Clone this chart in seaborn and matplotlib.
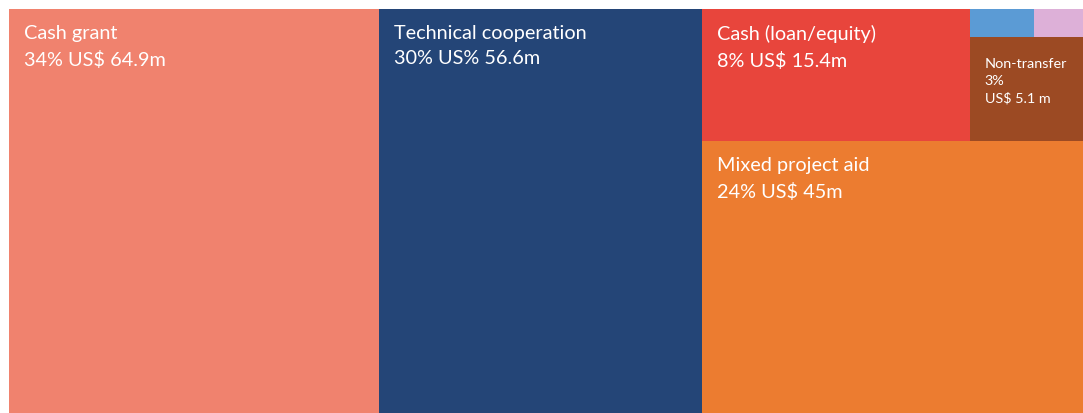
import matplotlib
matplotlib.use("Agg")
import matplotlib.pyplot as plt
import seaborn as sns
from matplotlib.patches import Rectangle

# aid modalities, US$ million
names = ["Cash grant", "Technical cooperation", "Mixed project aid",
         "Cash (loan/equity)", "Non-transfer", "Other A", "Other B"]
values = [64.9, 56.6, 45.0, 15.4, 5.1, 0.8, 0.6]
labels = ["Cash grant\n34% US$ 64.9m", "Technical cooperation\n30% US% 56.6m",
          "Mixed project aid\n24% US$ 45m", "Cash (loan/equity)\n8% US$ 15.4m",
          "Non-transfer\n3%\nUS$ 5.1 m", "", ""]
colors = ["#F0826E", "#244577", "#EC7C30", "#E8453C", "#9C4A23", "#5B9BD5", "#DDB0D8"]

sns.set_style("white")
plt.rcParams["font.family"] = ["Lato", "DejaVu Sans"]

W, H = 1074.0, 404.0
v = dict(zip(names, values))
total = sum(values)

# slice layout: two full-height columns, then a split column
rects = {}
x = 0.0
for n in ["Cash grant", "Technical cooperation"]:
    w = v[n] / total * W
    rects[n] = (x, 0.0, w, H)
    x += w
right_w = W - x
right_total = total - v["Cash grant"] - v["Technical cooperation"]
top_total = right_total - v["Mixed project aid"]
top_h = top_total / right_total * H
rects["Mixed project aid"] = (x, top_h, right_w, H - top_h)
cl_w = v["Cash (loan/equity)"] / top_total * right_w
rects["Cash (loan/equity)"] = (x, 0.0, cl_w, top_h)
sx = x + cl_w
sw = right_w - cl_w
small_total = v["Non-transfer"] + v["Other A"] + v["Other B"]
sh = (v["Other A"] + v["Other B"]) / small_total * top_h
rects["Non-transfer"] = (sx, sh, sw, top_h - sh)
aw = v["Other A"] / (v["Other A"] + v["Other B"]) * sw
rects["Other A"] = (sx, 0.0, aw, sh)
rects["Other B"] = (sx + aw, 0.0, sw - aw, sh)

fig = plt.figure(figsize=(10.83, 4.14), dpi=100)
ax = fig.add_axes([9 / 1083, 0, W / 1083, H / 414])
for n, lab, c in zip(names, labels, colors):
    rx, ry, rw, rh = rects[n]
    ax.add_patch(Rectangle((rx, ry), rw, rh, facecolor=c, edgecolor="none"))
    if lab:
        small = n == "Non-transfer"
        ax.text(rx + 15, ry + (20 if small else 15), lab,
                color="white", fontsize=10.4 if small else 14.3,
                va="top", ha="left", linespacing=1.45 if small else 1.6)
ax.set_xlim(0, W)
ax.set_ylim(H, 0)
ax.axis("off")
fig.savefig("out.png", dpi=100)
